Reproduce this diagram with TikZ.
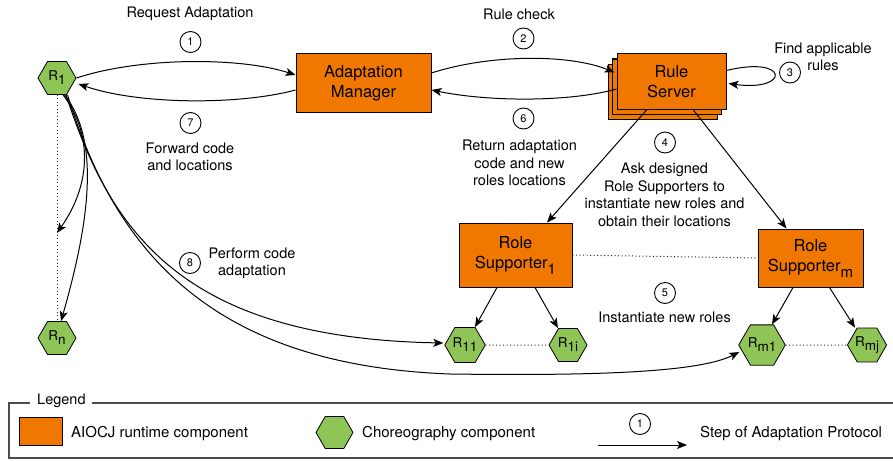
\documentclass[tikz,border=0pt]{standalone}
\usepackage{fontspec}
\setmainfont{TeX Gyre Heros}
\usetikzlibrary{shapes.geometric,arrows.meta,calc}
\definecolor{aorange}{RGB}{240,119,0}
\definecolor{agreen}{RGB}{143,196,87}
\newcommand{\lsub}[1]{\raisebox{-4pt}{#1}}
\newcommand{\bsub}[1]{\raisebox{-6pt}{\fontsize{15}{15}\selectfont #1}}
\begin{document}
\begin{tikzpicture}[x=1pt,y=-1pt,
  comp/.style={draw=black,fill=aorange,line width=1pt,inner sep=0pt,align=center,font=\fontsize{16.5}{20}\selectfont},
  role/.style={regular polygon,regular polygon sides=6,draw=black,fill=agreen,line width=0.8pt,minimum size=38pt,inner sep=0pt,font=\fontsize{13.5}{13.5}\selectfont},
  stepc/.style={circle,draw=black,line width=0.9pt,minimum size=21pt,inner sep=0pt,font=\fontsize{11}{11}\selectfont},
  lbl/.style={align=center,font=\fontsize{14.5}{17.5}\selectfont,inner sep=0pt},
  leg/.style={anchor=base west,inner sep=0pt,font=\fontsize{15}{18}\selectfont},
  conn/.style={line width=1pt,-{Stealth[length=10pt,width=8pt,inset=2.5pt]}},
  dots/.style={line width=1pt,dash pattern=on 1pt off 2.5pt,draw=black!85},
]
\useasboundingbox (0,0) rectangle (893,460);

% components
\node[role] (R1) at (57,78) {R\lsub{1}};
\node[role] (Rn) at (57,338) {R\lsub{n}};
\node[comp,minimum width=135pt,minimum height=58pt] (AM) at (363.5,83) {Adaptation\\Manager};
\node[comp,minimum width=109pt,minimum height=55pt] (RSb) at (662.5,91.5) {};
\node[comp,minimum width=109pt,minimum height=55pt] (RSc) at (667,86.5) {};
\node[comp,minimum width=109pt,minimum height=55pt] (RS) at (671.5,81.5) {Rule\\Server};
\node[comp,minimum width=113pt,minimum height=64pt] (RS1) at (515.5,255) {Role\\Supporter\bsub{1}};
\node[comp,minimum width=105pt,minimum height=58pt] (RSm) at (810.5,258) {Role\\Supporter\bsub{m}};
\node[role] (R11) at (465,345) {R\lsub{11}};
\node[role] (R1i) at (568,345) {R\lsub{1i}};
\node[role] (Rm1) at (762,345) {R\lsub{m1}};
\node[role] (Rmj) at (867,345) {R\lsub{mj}};

% dotted links
\draw[dots] (R1.south) -- (Rn.north);
\draw[dots] (RS1.east) -- (RSm.west);
\draw[dots] (R11.east) -- (R1i.west);
\draw[dots] (Rm1.east) -- (Rmj.west);

% protocol connectors
\draw[conn] (R1.east) .. controls (140,57) and (240,57) .. ($(AM.west)+(0,-8)$);
\draw[conn] ($(AM.west)+(0,7)$) .. controls (240,105) and (140,105) .. ($(R1.east)+(2,6)$);
\draw[conn] ($(AM.east)+(0,-10)$) .. controls (490,54) and (570,54) .. ($(RS.west)+(-2,-9)$);
\draw[conn] ($(RS.west)+(0,7.5)$) .. controls (570,102) and (490,102) .. ($(AM.east)+(0,7)$);
\draw[conn] ($(RS.east)+(0,-11)$) .. controls (790,55) and (790,92) .. ($(RS.east)+(2,2)$);
\draw[conn] ($(RS.south)+(-24.5,0)$) -- ($(RS1.north)+(31.5,0)$);
\draw[conn] ($(RS.south)+(21.5,0)$) -- ($(RSm.north)+(-24,0)$);
\draw[conn] ($(RS1.south)+(-18.5,0)$) -- ($(R11.north)+(10,0)$);
\draw[conn] ($(RS1.south)+(19.5,0)$) -- ($(R1i.north)+(-10,0)$);
\draw[conn] ($(RSm.south)+(-17.5,0)$) -- ($(Rm1.north)+(10,0)$);
\draw[conn] ($(RSm.south)+(19,0)$) -- ($(Rmj.north)+(-12,0)$);

\coordinate (mid) at (57,233);
\draw[conn] ([xshift=6pt]R1.south) .. controls (90,130) and (94,180) .. (mid);
\draw[conn] ([xshift=7.5pt]R1.south) .. controls (100,140) and (90,220) .. ($(Rn.north)+(4,0)$);
\draw[conn] ([xshift=9pt]R1.south) .. controls (110,230) and (180,338) .. ($(R11.west)+(-1,-2)$);
\draw[conn] ([xshift=10.5pt]R1.south) .. controls (115,250) and (210,365) .. (450,374) .. controls (600,376) and (700,372) .. ($(Rm1.west)+(1,7)$);

% step markers and labels
\node[stepc] (c1) at (190.5,42) {1};
\node[lbl] (t1) at (190,14) {Request Adaptation};
\node[stepc] (c7) at (190.5,123) {7};
\node[lbl] (t7) at (190,157) {Forward code\\and locations};
\node[stepc] (c2) at (523.5,38.5) {2};
\node[lbl] (t2) at (519,14) {Rule check};
\node[stepc] (c6) at (523.5,118.5) {6};
\node[lbl] (t6) at (519.5,163) {Return adaptation\\code and new\\roles locations};
\node[stepc] (c3) at (790,72.5) {3};
\node[lbl] (t3) at (823,57) {Find applicable\\rules};
\node[stepc] (c4) at (665,142.5) {4};
\node[lbl] (t4) at (664.5,195) {Ask designed\\Role Supporters to\\instantiate new roles and\\obtain their locations};
\node[stepc] (c5) at (665,293) {5};
\node[lbl] (t5) at (664.5,317) {Instantiate new roles};
\node[stepc] (c8) at (190,263) {8};
\node[lbl] (t8) at (252,263.5) {Perform code\\adaptation};

% legend
\draw[draw=black!70,line width=1.2pt] (30,403) -- (9,403) -- (9,458) -- (900,458) -- (900,403) -- (92,403);
\node[lbl,anchor=base west] (lt) at (37,404) {Legend};
\node[comp,minimum width=43pt,minimum height=28pt] (lsq) at (40.5,431) {};
\node[leg] (lsqt) at (71,437) {AIOCJ runtime component};
\node[role,minimum size=37pt] (lhex) at (334.5,432.5) {};
\node[leg] (lhext) at (362,437) {Choreography component};
\coordinate (la1) at (598,445);
\coordinate (la2) at (687,445);
\draw[conn] (la1) -- (la2);
\node[stepc] (lc) at (640,424) {1};
\node[leg] (lst) at (700,437) {Step of Adaptation Protocol};
\end{tikzpicture}
\end{document}
